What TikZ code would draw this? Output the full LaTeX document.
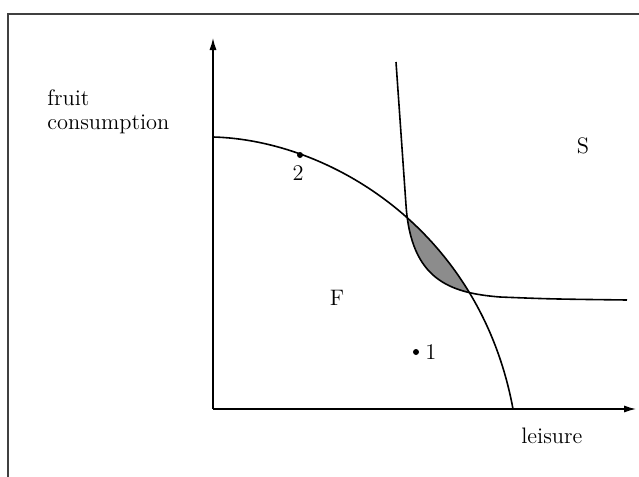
\documentclass[tikz,border=0pt]{standalone}
\usetikzlibrary{arrows.meta}
\begin{document}
\begin{tikzpicture}[x=0.5pt,y=-0.5pt,
  curve/.style={line width=0.8pt,black},
  axis/.style={line width=0.75pt,-{Latex[length=6pt,width=3.6pt]}},
  lbl/.style={font=\fontsize{11.2}{12}\selectfont,inner sep=0pt},
  pt/.style={circle,fill=black,inner sep=0pt,minimum size=3pt}]
\useasboundingbox (0,0) rectangle (639,477);
\fill[white] (0,0) rectangle (639,477);
% frame
\coordinate (f1) at (8,477); \coordinate (f2) at (8,14); \coordinate (f3) at (639,14);
\draw[line width=0.7pt,black!75] (f1) -- (f2) -- (f3);
% axes
\coordinate (O) at (213,409);
\coordinate (ytip) at (213,38);
\coordinate (xtip) at (636,409);
\draw[axis] (O) -- (ytip);
\draw[axis] (O) -- (xtip);
% shaded lens
\begin{scope}
  \clip (213,137) .. controls (330,140) and (480,230) .. (513,409) -- (213,409) -- cycle;
  \fill[black!45] (396,62) -- (406,205) .. controls (411,280) and (450,293) .. (500,297) .. controls (550,299) .. (627,300) -- (627,40) -- (396,40) -- cycle;
\end{scope}
% PPF
\coordinate (p0) at (213,137); \coordinate (p1) at (513,409);
\draw[curve] (p0) .. controls (330,140) and (480,230) .. (p1);
% indifference curve
\coordinate (i0) at (396,62); \coordinate (i1) at (627,300);
\draw[curve] (i0) -- (406,205) .. controls (411,280) and (450,293) .. (500,297) .. controls (550,299) .. (i1);
% points
\node[pt] (d2) at (300,155) {};
\node[pt] (d1) at (416,352) {};
\node[lbl,anchor=north] (l2) at (298,165) {2};
\node[lbl,anchor=west] (l1) at (425,352) {1};
\node[lbl] (S) at (583,146) {S};
\node[lbl] (F) at (337,298) {F};
\node[lbl,anchor=north west,align=left] (yl) at (47,89) {fruit\\consumption};
\node[lbl,anchor=north west] (xl) at (521,428) {leisure};
\end{tikzpicture}
\end{document}
